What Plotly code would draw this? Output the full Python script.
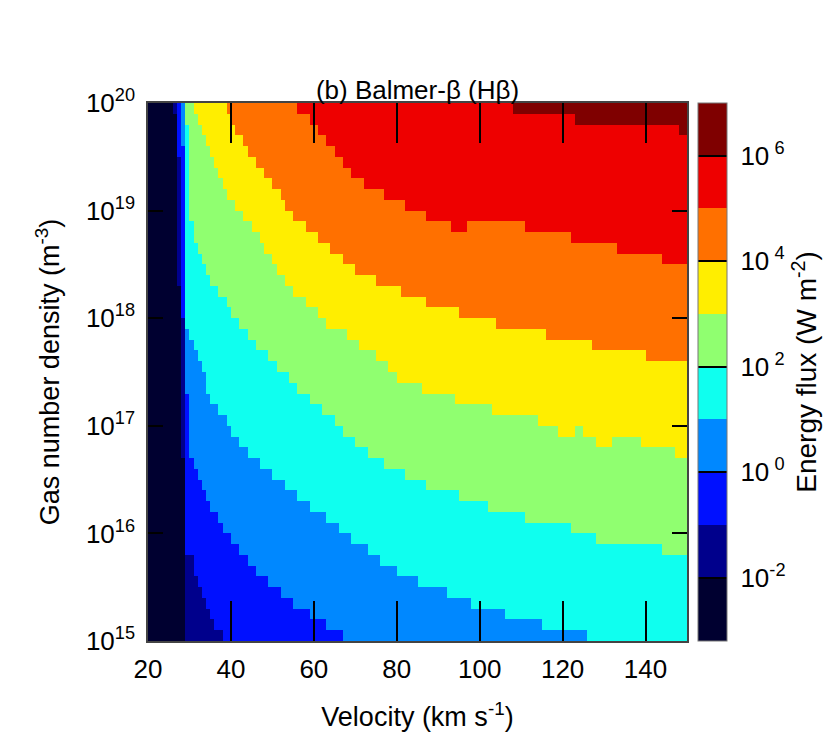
import numpy as np
import plotly.graph_objects as go

# ---------------- data ----------------
# Velocity grid (km/s) and log10 gas number density grid (m^-3): cell edges
v_edges = np.arange(20, 151, 1)
logn_edges = np.round(np.arange(15.0, 20.01, 0.1), 2)

# Colour levels: log10 energy flux bands (W m^-2), one colour per decade
level_floor = [-3.2, -2, -1, 0, 1, 2, 3, 4, 5, 6]
level_colors = ["#000030", "#00008C", "#0010FF", "#0088FF", "#0FFFEF",
                "#90FF70", "#FFEE00", "#FF7000", "#EE0000", "#7F0000"]

# Boundaries where the flux first exceeds 10^k: staircase of
# (velocity from which it applies, log10 density above which flux > 10^k)
bound_m2 = [(26, 19.9), (27, 18.3), (28, 16.7), (29, 15.0)]
bound_m1 = [(27, 19.5), (28, 18.0), (29, 15.8), (31, 15.6), (32, 15.5), (33, 15.4),
            (34, 15.3), (35, 15.2), (36, 15.1), (38, 15.0)]
bound_0 = [(28, 19.6), (29, 17.3), (30, 16.7), (31, 16.6), (32, 16.5), (33, 16.4),
           (34, 16.3), (35, 16.2), (37, 16.1), (38, 16.0), (40, 15.9), (42, 15.8),
           (44, 15.7), (46, 15.6), (49, 15.5), (52, 15.4), (55, 15.3), (59, 15.2),
           (63, 15.1), (67, 15.0)]
bound_1 = [(29, 17.9), (30, 17.8), (31, 17.7), (32, 17.6), (33, 17.5), (34, 17.3),
           (35, 17.2), (37, 17.1), (39, 17.0), (40, 16.9), (42, 16.8), (44, 16.7),
           (47, 16.6), (50, 16.5), (53, 16.4), (56, 16.3), (59, 16.2), (63, 16.1),
           (66, 16.0), (69, 15.9), (73, 15.8), (76, 15.7), (80, 15.6), (85, 15.5),
           (92, 15.4), (98, 15.3), (106, 15.2), (115, 15.1), (126, 15.0)]
bound_2 = [(29, 19.8), (30, 18.9), (31, 18.7), (32, 18.6), (33, 18.5), (34, 18.4),
           (35, 18.3), (37, 18.2), (39, 18.1), (40, 18.0), (42, 17.9), (44, 17.8),
           (46, 17.7), (49, 17.6), (51, 17.5), (54, 17.4), (56, 17.3), (59, 17.2),
           (62, 17.1), (65, 17.0), (67, 16.9), (70, 16.8), (73, 16.7), (77, 16.6),
           (82, 16.5), (87, 16.4), (95, 16.3), (102, 16.2), (111, 16.1), (122, 16.0),
           (128, 15.9), (144, 15.8)]
bound_3 = [(31, 19.9), (32, 19.8), (33, 19.7), (34, 19.6), (35, 19.5), (36, 19.4),
           (37, 19.3), (38, 19.2), (39, 19.1), (41, 19.0), (43, 18.9), (45, 18.8),
           (47, 18.7), (48, 18.6), (50, 18.5), (51, 18.4), (53, 18.3), (55, 18.2),
           (58, 18.1), (61, 18.0), (63, 17.9), (68, 17.8), (71, 17.7), (75, 17.6),
           (78, 17.5), (80, 17.4), (86, 17.3), (94, 17.2), (103, 17.1), (114, 17.0),
           (119, 16.9), (123, 17.0), (125, 16.9), (128, 16.8), (132, 16.9),
           (139, 16.8), (147, 16.7)]
bound_4 = [(39, 19.9), (40, 19.8), (41, 19.7), (43, 19.6), (44, 19.5), (46, 19.4),
           (48, 19.3), (50, 19.2), (52, 19.1), (53, 19.0), (55, 18.9), (58, 18.8),
           (61, 18.7), (64, 18.6), (67, 18.5), (70, 18.4), (75, 18.3), (81, 18.2),
           (87, 18.1), (95, 18.0), (104, 17.9), (116, 17.8), (127, 17.7), (140, 17.6)]
bound_5 = [(56, 19.9), (59, 19.8), (61, 19.7), (63, 19.6), (65, 19.5), (67, 19.4),
           (69, 19.3), (72, 19.2), (77, 19.1), (82, 19.0), (87, 18.9), (93, 18.8),
           (97, 18.9), (111, 18.8), (122, 18.7), (133, 18.6), (144, 18.5)]
bound_6 = [(108, 19.9), (123, 19.8), (148, 19.7)]

boundaries = [bound_m2, bound_m1, bound_0, bound_1, bound_2,
              bound_3, bound_4, bound_5, bound_6]

cbar_ticks = [-2, 0, 2, 4, 6]
cbar_text = ["\u00a010<sup>-2</sup>", "\u00a010<sup> 0</sup>", "\u00a010<sup> 2</sup>",
             "\u00a010<sup> 4</sup>", "\u00a010<sup> 6</sup>"]
x_ticks = [20, 40, 60, 80, 100, 120, 140]
y_ticks = [15, 16, 17, 18, 19, 20]
y_text = ["10<sup>%d</sup>" % t for t in y_ticks]

# ---------------- build grid of levels from the boundaries ----------------
v_cent = (v_edges[:-1] + v_edges[1:]) / 2.0
n_cent = (logn_edges[:-1] + logn_edges[1:]) / 2.0
levels = np.zeros((len(n_cent), len(v_cent)))
for steps in boundaries:
    for j, v0 in enumerate(v_edges[:-1]):
        b = 20.0
        for vs, ln in steps:
            if vs <= v0:
                b = ln
        levels[:, j] += (n_cent > b + 1e-9)
z = np.array([[level_floor[int(l)] + 0.5 if l > 0 else -2.6 for l in row] for row in levels])

zmin, zmax = -3.2, 7.0
cs = []
bounds = level_floor + [zmax]
for i, c in enumerate(level_colors):
    f0 = (bounds[i] - zmin) / (zmax - zmin)
    f1 = (bounds[i + 1] - zmin) / (zmax - zmin)
    cs.append([max(0.0, f0), c])
    cs.append([min(1.0, f1), c])

FONT = "Liberation Sans, Arial, Helvetica, sans-serif"
TICK = 26
LAB = 27

fig = go.Figure(go.Heatmap(
    x=v_cent, y=n_cent, z=z, zmin=zmin, zmax=zmax, colorscale=cs,
    zsmooth=False, hoverongaps=False,
    colorbar=dict(
        x=1.02, xanchor="left", xpad=0, y=0.5, yanchor="middle", ypad=0,
        len=538, lenmode="pixels", thickness=29, thicknessmode="pixels",
        outlinewidth=1, outlinecolor="#777777",
        tickmode="array", tickvals=cbar_ticks, ticktext=cbar_text,
        ticks="inside", ticklen=29, tickwidth=1.5, tickcolor="black",
        tickfont=dict(family=FONT, size=TICK, color="black"),
        title=dict(text="\u00a0Energy flux (W m<sup>-2</sup>)", side="right",
                   font=dict(family=FONT, size=28, color="black")),
    ),
))

fig.update_layout(
    width=830, height=756,
    margin=dict(l=148, r=143, t=103, b=115, autoexpand=False),
    paper_bgcolor="white", plot_bgcolor="white",
    title=dict(text="(b) Balmer-β (Hβ)", x=0.5, xref="paper", xanchor="center",
               y=1 - 90 / 756, yref="container", yanchor="middle",
               font=dict(family=FONT, size=26, color="black")),
    xaxis=dict(range=[20, 150], tickmode="array", tickvals=x_ticks,
               ticks="inside", ticklen=40, tickwidth=1.5, tickcolor="black",
               showline=True, linecolor="#444444", linewidth=1.5, mirror="ticks",
               showgrid=False, zeroline=False, ticklabelstandoff=4, automargin=False,
               tickfont=dict(family=FONT, size=TICK, color="black"),
               title=dict(text="Velocity (km s<sup>-1</sup>)", standoff=24,
                          font=dict(family=FONT, size=LAB, color="black"))),
    yaxis=dict(range=[15, 20], tickmode="array", tickvals=y_ticks, ticktext=y_text,
               ticks="inside", ticklen=15, tickwidth=1.5, tickcolor="black",
               showline=True, linecolor="#444444", linewidth=1.5, mirror="ticks",
               showgrid=False, zeroline=False, ticklabelstandoff=6, automargin=False,
               tickfont=dict(family=FONT, size=TICK, color="black"),
               title=dict(text="Gas number density (m<sup>-3</sup>)", standoff=18,
                          font=dict(family=FONT, size=LAB, color="black"))),
)

fig.write_html("out.html", config={"displayModeBar": False},
               post_script="document.body.style.margin='0px';")
